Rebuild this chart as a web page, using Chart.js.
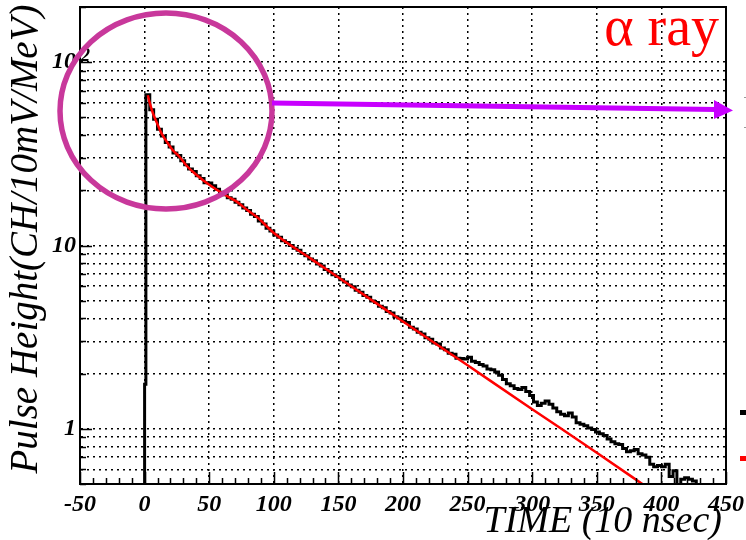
<!DOCTYPE html>
<html><head><meta charset="utf-8">
<script src="https://cdn.jsdelivr.net/npm/chart.js@4/dist/chart.umd.min.js"></script>
<style>html,body{margin:0;padding:0;background:#fff;}#wrap{width:746px;height:540px;position:relative;}</style>
</head><body><div id="wrap"><canvas id="c" width="746" height="540"></canvas></div>
<script>
// ---- data ----
const xTickValues = [-50, 0, 50, 100, 150, 200, 250, 300, 350, 400, 450];
const yGridValues = [0.5,0.6,0.7,0.8,0.9,1,2,3,4,5,6,7,8,9,10,20,30,40,50,60,70,80,90,100,200];
const yLabelValues = [1, 10, 100];
const yLabelTexts = ['1', '10', '10'];
const yLabelExponents = ['', '', '2'];
// histogram: rising edge, then bins of 3 (x 10 nsec) starting at t = 1
const riseTime = [-50, 0];
const riseValue = [0.3, 1.75];
const binStart = 1;
const binWidth = 3;
const pulseHeight = [
 66.5,55.0,48.8,43.0,39.6,36.5,34.5,32.0,31.0,29.0,
 27.6,26.1,25.3,24.0,23.2,22.0,21.9,21.2,20.3,19.5,
 18.9,18.2,17.9,17.2,16.7,16.0,15.5,14.8,14.4,13.6,
 13.1,12.4,12.0,11.4,11.1,10.6,10.4,10.0,9.65,9.42,
 9.05,8.80,8.45,8.25,7.92,7.72,7.40,7.22,6.92,6.78,
 6.50,6.33,6.08,5.95,5.70,5.56,5.33,5.22,4.98,4.88,
 4.66,4.58,4.36,4.28,4.08,4.02,3.86,3.80,3.58,3.50,
 3.36,3.29,3.14,3.08,2.94,2.90,2.76,2.70,2.58,2.55,
 2.43,2.42,2.40,2.46,2.34,2.30,2.24,2.20,2.12,2.10,
 2.04,1.96,1.86,1.76,1.72,1.66,1.64,1.68,1.60,1.52,
 1.40,1.34,1.38,1.42,1.36,1.30,1.24,1.20,1.18,1.22,
 1.16,1.08,1.06,1.04,1.01,0.99,0.96,0.94,0.92,0.88,
 0.85,0.83,0.82,0.78,0.75,0.76,0.77,0.73,0.72,0.70,
 0.64,0.62,0.63,0.62,0.64,0.55,0.59,0.45,0.53,0.54,
 0.53,0.52,0.45
];
const tailValue = 0.3;
// fit curve (red)
const fitTime  = [2.5, 4, 6.5, 9.5, 13, 17, 22, 27, 32, 38, 45, 52, 58, 65, 71, 80, 87, 100, 130, 160, 200, 250, 300, 350, 390];
const fitValue = [66, 60, 52.5, 46.7, 41, 37, 33, 30.5, 27.5, 25, 22.8, 21, 19.7, 18.4, 17.4, 15.5, 14.3, 11.7, 8.35, 6.0, 3.85, 2.22, 1.28, 0.74, 0.474];

// ---- build datasets ----
const histPoints = [];
riseTime.forEach((t, i) => histPoints.push({x: t, y: riseValue[i]}));
pulseHeight.forEach((v, i) => histPoints.push({x: binStart + i * binWidth, y: v}));
histPoints.push({x: binStart + pulseHeight.length * binWidth, y: tailValue});
const fitPoints = fitTime.map((t, i) => ({x: t, y: fitValue[i]}));

const SERIF = '"Liberation Serif", "Times New Roman", serif';

const decor = {
  id: 'decor',
  afterDraw(chart) {
    const ctx = chart.ctx, a = chart.chartArea;
    const xs = chart.scales.x, ys = chart.scales.y;
    ctx.save();
    // frame
    ctx.strokeStyle = '#000'; ctx.lineWidth = 2;
    ctx.strokeRect(a.left, a.top, a.right - a.left, a.bottom - a.top);
    // inward ticks on x
    ctx.lineWidth = 1.5;
    ctx.beginPath();
    for (let v = -50; v <= 450; v += 10) {
      const px = Math.round(xs.getPixelForValue(v)) + 0.5;
      const len = (v % 50 === 0) ? 12 : 6;
      ctx.moveTo(px, a.bottom); ctx.lineTo(px, a.bottom - len);
    }
    // inward ticks on y
    yGridValues.forEach(v => {
      const py = Math.round(ys.getPixelForValue(v)) + 0.5;
      const len = yLabelValues.includes(v) ? 12 : 6;
      ctx.moveTo(a.left, py); ctx.lineTo(a.left + len, py);
    });
    ctx.stroke();
    // exponents of the y labels
    ctx.fillStyle = '#000';
    ctx.font = 'italic bold 18px ' + SERIF;
    ctx.textAlign = 'left'; ctx.textBaseline = 'alphabetic';
    yLabelValues.forEach((v, i) => {
      if (yLabelExponents[i]) ctx.fillText(yLabelExponents[i], a.left + 1, ys.getPixelForValue(v) - 1);
    });
    // circle
    ctx.strokeStyle = '#c8389b'; ctx.lineWidth = 5.5;
    ctx.beginPath(); ctx.ellipse(166, 111, 106, 98, 0, 0, Math.PI * 2); ctx.stroke();
    // arrow
    ctx.strokeStyle = '#c800ff'; ctx.fillStyle = '#c800ff'; ctx.lineWidth = 5;
    ctx.beginPath(); ctx.moveTo(272, 103); ctx.lineTo(716, 109.5); ctx.stroke();
    ctx.beginPath(); ctx.moveTo(733, 110.5); ctx.lineTo(714, 100); ctx.lineTo(714, 119); ctx.closePath(); ctx.fill();
    // alpha ray label
    ctx.fillStyle = '#ff0000';
    ctx.font = '56px ' + SERIF;
    ctx.textAlign = 'right'; ctx.textBaseline = 'alphabetic';
    ctx.fillText('\u03B1 ray', 719, 45);
    // axis titles
    ctx.fillStyle = '#000';
    ctx.font = 'italic 38px ' + SERIF;
    ctx.textAlign = 'right';
    ctx.fillText('TIME (10 nsec)', 722, 532);
    ctx.save();
    ctx.translate(37, 239); ctx.rotate(-Math.PI / 2);
    ctx.textAlign = 'center';
    ctx.font = 'italic 39px ' + SERIF;
    ctx.fillText('Pulse Height(CH/10mV/MeV)', 0, 0);
    ctx.restore();
    // cut-off legend marks at right edge
    ctx.fillStyle = '#000'; ctx.fillRect(740, 410, 6, 5);
    ctx.fillStyle = '#ff0000'; ctx.fillRect(740, 456, 6, 5);
    ctx.fillStyle = '#999'; ctx.fillRect(744, 97, 2, 1); ctx.fillRect(744, 127, 2, 1);
    ctx.restore();
  }
};

new Chart(document.getElementById('c'), {
  type: 'line',
  data: {
    datasets: [
      {label: 'fit', data: fitPoints, borderColor: '#ff0000', borderWidth: 2.5, pointRadius: 0,
       cubicInterpolationMode: 'monotone', fill: false},
      {label: 'data', data: histPoints, borderColor: '#000', borderWidth: 3, pointRadius: 0,
       stepped: 'before', fill: false}
    ]
  },
  options: {
    responsive: false, animation: false, devicePixelRatio: 1,
    layout: {padding: {left: 0, right: 20, top: 7, bottom: 0}},
    plugins: {legend: {display: false}, tooltip: {enabled: false}},
    scales: {
      x: {
        type: 'linear', min: -50, max: 450,
        afterFit: s => { s.height = 56; s.paddingLeft = 0; s.paddingRight = 0; },
        afterBuildTicks: s => { s.ticks = xTickValues.map(v => ({value: v})); },
        grid: {color: '#000', lineWidth: 1.5, drawTicks: false},
        border: {display: true, color: '#000', width: 2, dash: [2, 4]},
        ticks: {autoSkip: false, maxRotation: 0, padding: 6, color: '#000',
                font: {family: SERIF, size: 24, style: 'italic', weight: 'bold'},
                callback: v => String(v)}
      },
      y: {
        type: 'logarithmic', min: 0.5, max: 200,
        afterFit: s => { s.width = 80; s.paddingTop = 0; s.paddingBottom = 0; },
        afterBuildTicks: s => { s.ticks = yGridValues.map(v => ({value: v})); },
        grid: {color: '#000', lineWidth: 1.5, drawTicks: false},
        border: {display: true, color: '#000', width: 2, dash: [2, 4]},
        ticks: {autoSkip: false, padding: 4, color: '#000',
                font: {family: SERIF, size: 24, style: 'italic', weight: 'bold'},
                callback: v => { const k = yLabelValues.findIndex(u => Math.abs(u - v) < 1e-9); return k >= 0 ? yLabelTexts[k] : ''; }}
      }
    }
  },
  plugins: [decor]
});
</script></body></html>
